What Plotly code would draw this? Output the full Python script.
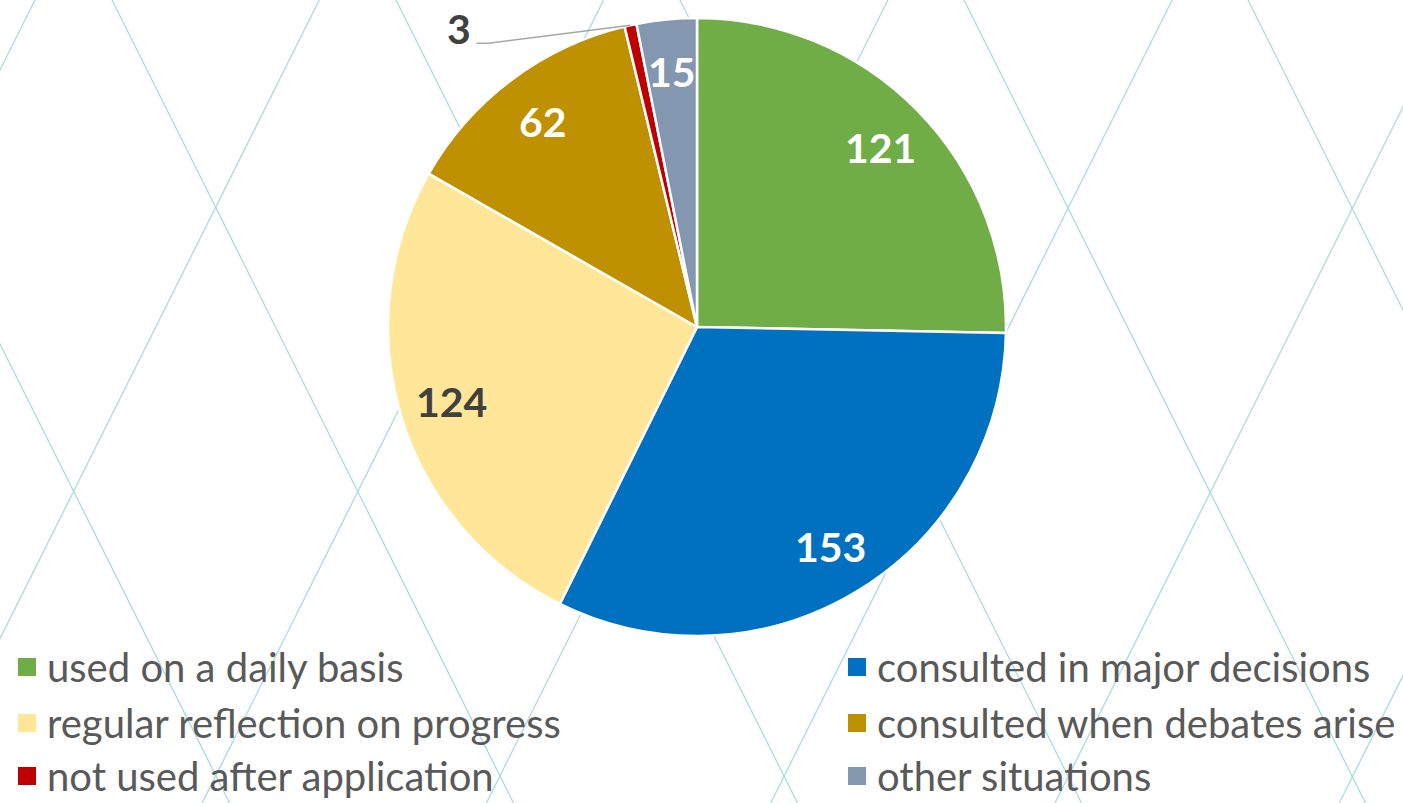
import math
import plotly.graph_objects as go

labels = ["used on a daily basis", "consulted in major decisions",
          "regular reflection on progress", "consulted when debates arise",
          "not used after application", "other situations"]
values = [121, 153, 124, 62, 3, 15]
colors = ["#70AD47", "#0070C0", "#FFE699", "#BF9000", "#C00000", "#8497B0"]
text_colors = ["white", "white", "#404040", "white", "#404040", "white"]
outside_idx = 4  # small slice labelled outside with a leader line

W, H = 1403, 803
cx, cy, R = 697, 327, 309  # pie centre/radius in pixels
LABEL_R = 0.83
FONT = "Lato"

def px(x):
    return x / W

def py(y):
    return 1 - y / H

fig = go.Figure()
fig.add_trace(go.Pie(
    labels=labels, values=values, sort=False, direction="clockwise", rotation=0,
    marker=dict(colors=colors, line=dict(color="white", width=2.5)),
    textinfo="none", hoverinfo="label+value", showlegend=False,
    domain=dict(x=[px(cx - R), px(cx + R)], y=[py(cy + R), py(cy - R)]),
))

# Data labels placed at each slice's mid-angle (computed from the values)
total = sum(values)
cum = 0
annotations = []
shapes = []
for i, v in enumerate(values):
    mid = (cum + v / 2) / total * 2 * math.pi
    cum += v
    if i == outside_idx:
        tip_x = cx + R * math.sin(mid)
        tip_y = cy - R * math.cos(mid)
        shapes.append(dict(
            type="path", xref="paper", yref="paper",
            path="M %f %f L %f %f L %f %f" % (
                px(tip_x), py(tip_y), px(tip_x - 142), py(tip_y + 18),
                px(tip_x - 154), py(tip_y + 18)),
            line=dict(color="#A6A6A6", width=1.5)))
        annotations.append(dict(
            x=px(tip_x - 172), y=py(tip_y + 3), xref="paper", yref="paper",
            text=str(v), showarrow=False, xanchor="center", yanchor="middle",
            font=dict(family=FONT, size=41, color=text_colors[i], weight="bold")))
    else:
        lx = cx + LABEL_R * R * math.sin(mid)
        ly = cy - LABEL_R * R * math.cos(mid)
        annotations.append(dict(
            x=px(lx), y=py(ly), xref="paper", yref="paper",
            text=str(v), showarrow=False, xanchor="center", yanchor="middle",
            font=dict(family=FONT, size=41, color=text_colors[i], weight="bold")))

# Legend in two columns, three rows (built from labels/colors)
col_x = [18, 848]
row_y = [667, 723, 776]
sq = 18
for i, (lab, col) in enumerate(zip(labels, colors)):
    x0 = col_x[i % 2]
    yc = row_y[i // 2]
    shapes.append(dict(type="rect", xref="paper", yref="paper",
                       x0=px(x0), x1=px(x0 + sq), y0=py(yc + sq / 2), y1=py(yc - sq / 2),
                       fillcolor=col, line=dict(width=0)))
    annotations.append(dict(
        x=px(x0 + 27), y=py(yc), xref="paper", yref="paper", text=lab,
        showarrow=False, xanchor="left", yanchor="middle",
        font=dict(family=FONT, size=40, color="#595959")))

# Decorative diamond lattice background
for k in range(-4, 8):
    c1 = 112 + 284 * k
    shapes.append(dict(type="line", xref="paper", yref="paper", layer="below",
                       x0=px(c1), y0=1, x1=px(c1 + 0.5 * H), y1=0,
                       line=dict(color="#B0DCE2", width=1.4)))
    c2 = 35 + 284.3 * k
    shapes.append(dict(type="line", xref="paper", yref="paper", layer="below",
                       x0=px(c2), y0=1, x1=px(c2 - 0.5 * H), y1=0,
                       line=dict(color="#B0DCE2", width=1.4)))

fig.update_layout(
    width=W, height=H, margin=dict(l=0, r=0, t=0, b=0),
    paper_bgcolor="white", plot_bgcolor="white",
    shapes=shapes, annotations=annotations,
    showlegend=False,
)

fig.write_html("out.html", config={"displayModeBar": False},
               post_script="document.body.style.margin='0';")
